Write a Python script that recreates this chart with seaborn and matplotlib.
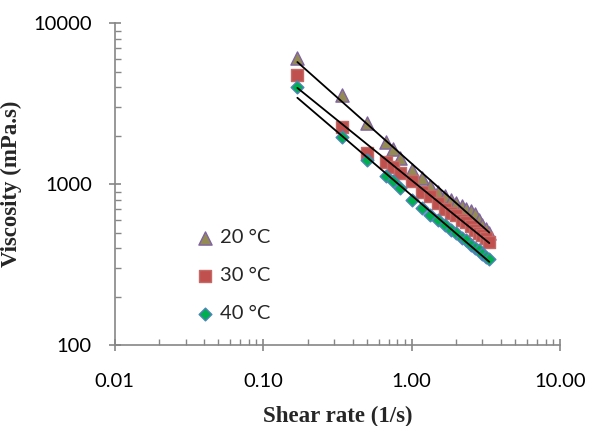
import numpy as np
import pandas as pd
import matplotlib
matplotlib.use("Agg")
import matplotlib.pyplot as plt
import seaborn as sns
from matplotlib.ticker import LogLocator, FixedLocator, NullFormatter

# shear rate (1/s) and viscosity (mPa.s)
shear_rate = [0.17, 0.34, 0.50, 0.67, 0.75, 0.84, 1.00, 1.17, 1.34, 1.50, 1.67,
              1.84, 2.00, 2.17, 2.34, 2.50, 2.67, 2.84, 3.00, 3.17, 3.34]
visc_20 = [6100, 3600, 2400, 1840, 1650, 1450, 1230, 1100, 980, 900, 850,
           800, 760, 730, 700, 680, 650, 600, 560, 530, 500]
visc_30 = [4780, 2260, 1560, 1380, 1285, 1170, 1040, 900, 840, 760, 700,
           660, 640, 600, 580, 550, 520, 500, 480, 460, 440]
visc_40 = [4000, 1960, 1415, 1120, 1040, 945, 800, 710, 645, 600, 560,
           520, 495, 465, 450, 420, 400, 390, 370, 355, 342]
labels = ["20 °C", "30 °C", "40 °C"]

sns.set_style("white")
plt.rcParams["font.family"] = ["Lato", "DejaVu Sans"]

fig = plt.figure(figsize=(5.9, 4.26), dpi=100)
ax = fig.add_axes([0.1944, 0.1901, 0.7548, 0.7552])

series = [
    (visc_20, "^", "#948A54", "#8064A2", 90),
    (visc_30, "s", "#C0504D", "#C46B68", 78),
    (visc_40, "D", "#00B050", "#4F81BD", 42),
]

for (vals, marker, fill, edge, size), lab in zip(series, labels):
    df = pd.DataFrame({"rate": shear_rate, "visc": vals})
    sns.scatterplot(data=df, x="rate", y="visc", marker=marker, color=fill,
                    edgecolor=edge, linewidth=1.0, s=size, ax=ax, label=lab,
                    zorder=3)

# power-law trendlines (fit on log-log)
for vals, _, _, _, _ in series:
    k, b = np.polyfit(np.log10(shear_rate), np.log10(vals), 1)
    xs = np.array([min(shear_rate), max(shear_rate)])
    ax.plot(xs, 10 ** (b + k * np.log10(xs)), color="black", lw=1.3, zorder=4)

ax.set_xscale("log")
ax.set_yscale("log")
ax.set_xlim(0.01, 10)
ax.set_ylim(100, 10000)

ax.xaxis.set_major_locator(FixedLocator([0.01, 0.1, 1, 10]))
ax.set_xticklabels(["0.01", "0.10", "1.00", "10.00"])
ax.yaxis.set_major_locator(FixedLocator([100, 1000, 10000]))
ax.set_yticklabels(["100", "1000", "10000"])
ax.xaxis.set_minor_locator(LogLocator(base=10, subs=np.arange(2, 10)))
ax.yaxis.set_minor_locator(LogLocator(base=10, subs=np.arange(2, 10)))
ax.xaxis.set_minor_formatter(NullFormatter())
ax.yaxis.set_minor_formatter(NullFormatter())

gray = "#868686"
for side in ["top", "right"]:
    ax.spines[side].set_visible(False)
for side in ["left", "bottom"]:
    ax.spines[side].set_color(gray)
    ax.spines[side].set_linewidth(1.2)
ax.tick_params(which="major", direction="inout", length=9, width=1.2,
               color=gray, labelsize=14.5, labelcolor="black")
ax.tick_params(which="minor", direction="in", length=4, width=1.0, color=gray)
ax.tick_params(axis="y", which="major", pad=12)
ax.tick_params(axis="x", which="major", pad=16)
ax.tick_params(left=True, bottom=True, which="both")

ax.set_xlabel("Shear rate (1/s)", fontfamily="Liberation Serif",
              fontweight="bold", fontsize=16.5, labelpad=11)
ax.set_ylabel("Viscosity (mPa.s)", fontfamily="Liberation Serif",
              fontweight="bold", fontsize=16.5, labelpad=8)

ax.legend(loc="upper left", bbox_to_anchor=(0.162, 0.386), frameon=False,
          fontsize=14.5, labelspacing=1.05, handletextpad=0.25, handlelength=1.0,
          borderaxespad=0)

fig.savefig("out.png", dpi=100)
